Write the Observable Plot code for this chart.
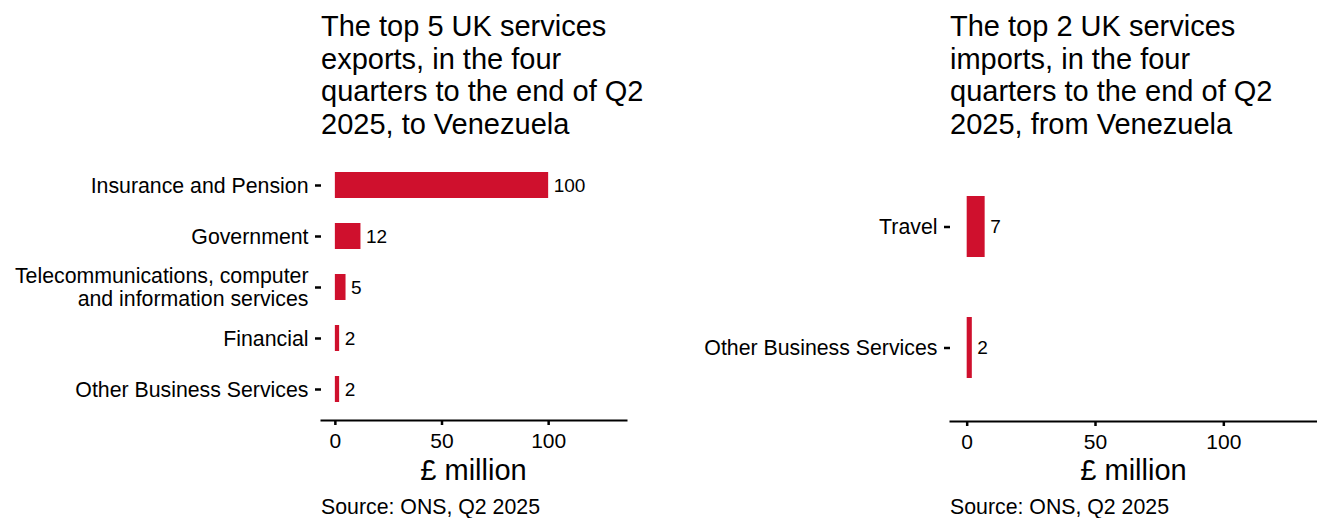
<!DOCTYPE html>
<html>
<head>
<meta charset="utf-8">
<script src="https://cdn.jsdelivr.net/npm/d3@7"></script>
<script src="https://cdn.jsdelivr.net/npm/@observablehq/plot@0.6"></script>
<style>
  html, body { margin: 0; padding: 0; background: #fff; }
  #root { position: relative; width: 1317px; height: 518px; overflow: hidden; font-family: "Liberation Sans", Arial, sans-serif; color: #000; }
  .title { position: absolute; font-size: 29px; line-height: 32.5px; width: 380px; white-space: nowrap; }
  .xlab { position: absolute; font-size: 29px; line-height: 30px; text-align: center; }
  .src { position: absolute; font-size: 21.3px; line-height: 24px; white-space: nowrap; }
  .plot { position: absolute; top: 0; }
</style>
</head>
<body>
<div id="root"></div>
<script>
// Data
const exportCategories = ["Insurance and Pension", "Government", "Telecommunications, computer\nand information services", "Financial", "Other Business Services"];
const exportValues = [100, 12, 5, 2, 2];
const importCategories = ["Travel", "Other Business Services"];
const importValues = [7, 2];
const xTicks = [0, 50, 100];
const xDomain = [-6.5, 136.5];
const xLabel = "£ million";
const source = "Source: ONS, Q2 2025";
const barColor = "#cf102d";

const root = document.getElementById("root");

function panel({cats, vals, left, width, marginLeft, marginRight, marginTop, marginBottom, titleLines}) {
  const data = cats.map((c, i) => ({category: c, value: vals[i]}));
  const chart = Plot.plot({
    width, height: 518,
    marginLeft, marginRight, marginTop, marginBottom,
    style: {fontFamily: "'Liberation Sans', Arial, sans-serif", fontSize: "21px", color: "#000", background: "transparent"},
    x: {domain: xDomain, ticks: xTicks, label: null},
    y: {domain: cats, paddingInner: 0.5, paddingOuter: 0.35, label: null},
    marks: [
      Plot.barX(data, {x: "value", y: "category", fill: barColor}),
      Plot.text(data, {x: "value", y: "category", text: d => String(d.value), textAnchor: "start", dx: 5, fontSize: 19, fill: "#000"}),
      Plot.frame({anchor: "bottom", stroke: "#000", strokeWidth: 2}),
      Plot.axisX({ticks: xTicks, tickSize: 5, tickPadding: 8, strokeWidth: 2.5, stroke: "#000", fontSize: 21, label: null}),
      Plot.axisY({tickSize: 6, tickPadding: 7, strokeWidth: 2.5, stroke: "#000", fontSize: 21.3, lineHeight: 1.08, label: null})
    ]
  });
  chart.classList.add("plot");
  chart.style.left = left + "px";
  root.appendChild(chart);

  const panelLeft = left + marginLeft;
  const panelWidth = width - marginLeft - marginRight;
  const t = document.createElement("div");
  t.className = "title";
  t.style.left = panelLeft + "px";
  t.style.top = "10px";
  t.innerHTML = titleLines.join("<br>");
  root.appendChild(t);

  const xl = document.createElement("div");
  xl.className = "xlab";
  xl.style.left = panelLeft + "px";
  xl.style.width = panelWidth + "px";
  xl.style.top = "455px";
  xl.textContent = xLabel;
  root.appendChild(xl);

  const s = document.createElement("div");
  s.className = "src";
  s.style.left = panelLeft + "px";
  s.style.top = "495px";
  s.textContent = source;
  root.appendChild(s);
}

panel({cats: exportCategories, vals: exportValues, left: 0, width: 640, marginLeft: 321, marginRight: 14, marginTop: 154, marginBottom: 98,
  titleLines: ["The top 5 UK services", "exports, in the four", "quarters to the end of Q2", "2025, to Venezuela"]});
panel({cats: importCategories, vals: importValues, left: 640, width: 677, marginLeft: 310, marginRight: 0, marginTop: 153, marginBottom: 97,
  titleLines: ["The top 2 UK services", "imports, in the four", "quarters to the end of Q2", "2025, from Venezuela"]});
</script>
</body>
</html>
